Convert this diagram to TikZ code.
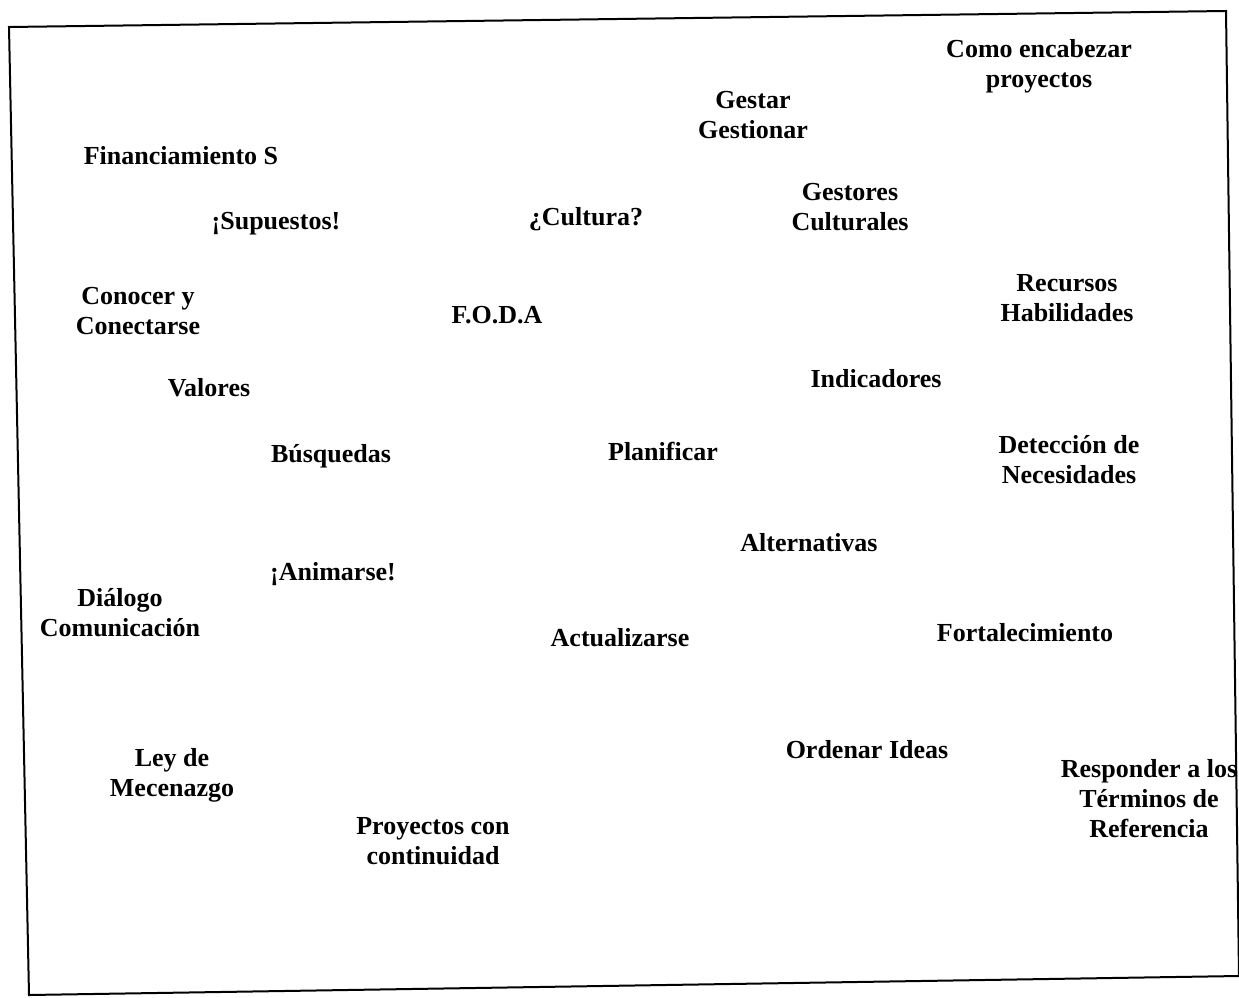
\documentclass[tikz,border=0pt]{standalone}
\usepackage{fontspec}
\setmainfont{Liberation Serif}
\begin{document}
\begin{tikzpicture}[x=1pt,y=-1pt,
  lbl/.style={font=\fontsize{26}{30}\selectfont\bfseries, align=center, inner sep=0pt},
  frame/.style={line width=2pt, line join=miter}]
\useasboundingbox (0,0) rectangle (1239,998);
% outer frame (slightly skewed box)
\coordinate (tl) at (9,27);
\coordinate (tr) at (1226,11);
\coordinate (br) at (1239,976);
\coordinate (bl) at (29,995);
\draw[frame] (tl) -- (tr) -- (br) -- (bl) -- cycle;
% keywords
\node[lbl] (como) at (1039,66) {Como encabezar\\proyectos};
\node[lbl] (gestar) at (753,115) {Gestar\\Gestionar};
\node[lbl] (finan) at (181,156) {Financiamiento S};
\node[lbl] (gestores) at (850,207) {Gestores\\Culturales};
\node[lbl] (supuestos) at (276,224) {¡Supuestos!};
\node[lbl] (cultura) at (586,219) {¿Cultura?};
\node[lbl] (conocer) at (138,311) {Conocer y\\Conectarse};
\node[lbl] (foda) at (497,315) {F.O.D.A};
\node[lbl] (recursos) at (1067,298) {Recursos\\Habilidades};
\node[lbl] (valores) at (209,388) {Valores};
\node[lbl] (indic) at (876,379) {Indicadores};
\node[lbl] (busq) at (331,456) {Búsquedas};
\node[lbl] (planif) at (663,451) {Planificar};
\node[lbl] (deteccion) at (1069,460) {Detección de\\Necesidades};
\node[lbl] (altern) at (809,543) {Alternativas};
\node[lbl] (animarse) at (333,574) {¡Animarse!};
\node[lbl] (dialogo) at (120,613) {Diálogo\\Comunicación};
\node[lbl] (actual) at (620,638) {Actualizarse};
\node[lbl] (fortal) at (1025,633) {Fortalecimiento};
\node[lbl] (ley) at (172,775) {Ley de\\Mecenazgo};
\node[lbl] (ordenar) at (867,750) {Ordenar Ideas};
\node[lbl] (responder) at (1149,799) {Responder a los\\Términos de\\Referencia};
\node[lbl] (proyectos) at (433,841) {Proyectos con\\continuidad};
\end{tikzpicture}
\end{document}
